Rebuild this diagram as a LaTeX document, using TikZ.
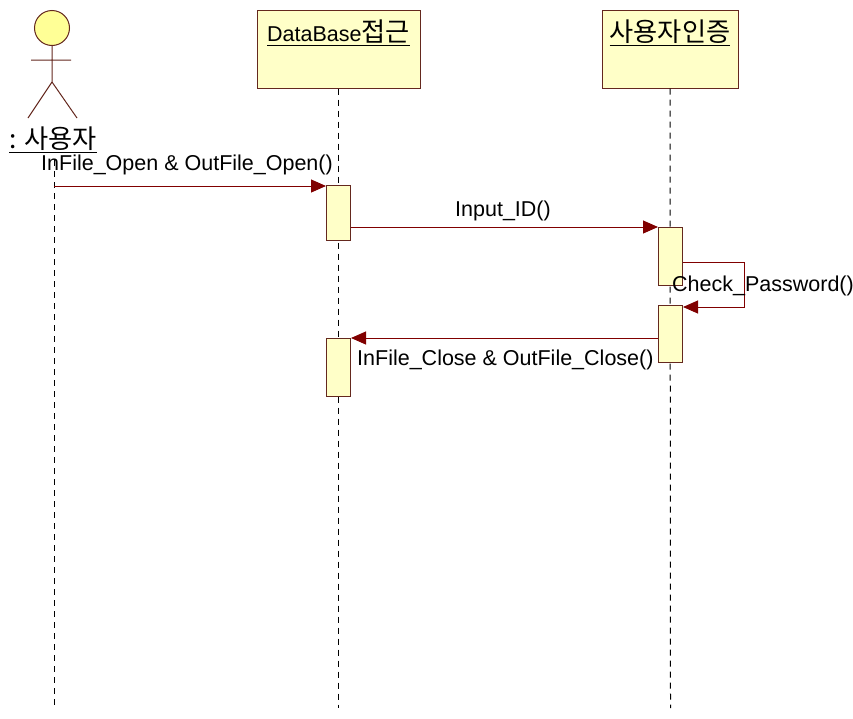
\documentclass[tikz,border=0pt]{standalone}
\usepackage{fontspec}
\setmainfont{Liberation Sans}
\newfontfamily\kr[Scale=1.22]{Noto Sans CJK KR}
\usetikzlibrary{arrows.meta}
\definecolor{boxfill}{RGB}{255,255,200}
\definecolor{boxline}{RGB}{100,40,30}
\definecolor{msgred}{RGB}{128,0,0}
\definecolor{headfill}{RGB}{255,255,150}
\begin{document}
\begin{tikzpicture}[x=1pt,y=-1pt,
  every node/.style={font=\fontsize{21.5}{25}\selectfont, inner sep=0pt},
  objbox/.style={draw=boxline, fill=boxfill, line width=1pt, minimum width=#1, minimum height=78pt},
  actbox/.style={draw=boxline, fill=boxfill, line width=1pt, minimum width=24pt},
  lifeline/.style={draw=black, line width=1pt, dash pattern=on 6pt off 5pt},
  msg/.style={draw=msgred, line width=1pt, -{Triangle[length=15pt,width=13pt]}, color=msgred},
  lbl/.style={text=black}
]
\useasboundingbox (0,0) rectangle (853,718);
% actor
\node[circle, draw=boxline, fill=headfill, line width=1pt, minimum size=35pt] (head) at (52,28) {};
\coordinate (hip) at (52,82);
\coordinate (larm) at (31,60);
\coordinate (rarm) at (71,60);
\coordinate (lleg) at (28,118);
\coordinate (rleg) at (77,118);
\draw[boxline, line width=1pt] (head.south) -- (hip) (larm) -- (rarm) (lleg) -- (hip) -- (rleg);
\node[lbl] (actor) at (53,140) {\underline{{\kr : 사용자}}};
% object boxes
\node[objbox=163pt] (db) at (338.5,49) {};
\node[lbl] (dbname) at (338.5,33) {\underline{DataBase{\kr 접근}}};
\node[objbox=136pt] (auth) at (670,49) {};
\node[lbl] (authname) at (670,33) {\underline{{\kr 사용자인증}}};
% lifelines
\coordinate (uTop) at (54,160);
\coordinate (uBot) at (54,708);
\coordinate (dbBot) at (338.5,708);
\coordinate (auBot) at (670.5,708);
\draw[lifeline] (uTop) -- (uBot);
\draw[lifeline] (db.south) -- (dbBot);
\draw[lifeline] (auth.south) -- (auBot);
% activations
\node[actbox, minimum height=55pt, anchor=north] (a1) at (338.5,185) {};
\node[actbox, minimum height=58pt, anchor=north] (a2) at (670.5,227) {};
\node[actbox, minimum height=57pt, anchor=north] (a3) at (670.5,305) {};
\node[actbox, minimum height=58pt, anchor=north] (a4) at (338.5,338) {};
% messages
\coordinate (m1) at (54,186);
\draw[msg] (m1) -- (m1 -| a1.west);
\node[lbl] (l1) at (187,165) {InFile\_Open \& OutFile\_Open()};
\draw[msg] (a2.north west -| a1.east) -- (a2.north west);
\node[lbl] (l2) at (503,211) {Input\_ID()};
\coordinate (s1) at (744,262);
\draw[msg] (s1 -| a2.east) -- (s1) |- ([yshift=-2pt]a3.north east);
\node[lbl, anchor=west] (l3) at (672,286) {Check\_Password()};
\draw[msg] (a4.north east -| a3.west) -- (a4.north east);
\node[lbl, anchor=west] (l4) at (357,360) {InFile\_Close \& OutFile\_Close()};
\end{tikzpicture}
\end{document}
